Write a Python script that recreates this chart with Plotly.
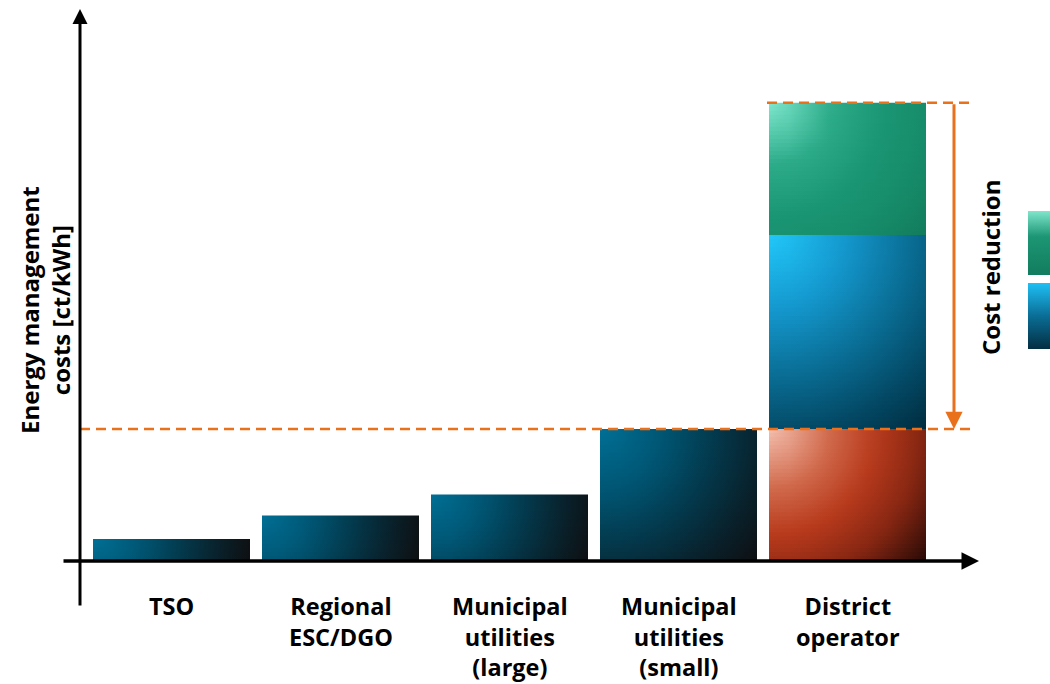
import math
import plotly.graph_objects as go

# ---------------- data ----------------
categories = ["TSO", "Regional<br>ESC/DGO", "Municipal<br>utilities<br>(large)",
              "Municipal<br>utilities<br>(small)", "District<br>operator"]
base_costs = [1.6, 3.4, 5.0, 10.0]            # single bars (relative ct/kWh)
district_segments = [10.0, 14.8, 10.1]        # stacked district bar: base, blue, green

# ---------------- style ----------------
W, H = 1050, 684
ORANGE = "#E9711C"
FONT = "Open Sans"
PXC, PXU = 169.0, 13.1      # px per category / px per value unit
BAR_PX = 157.0
HW = BAR_PX / PXC / 2

# gradient stops (t = 0 at top-left corner, 1 at bottom-right corner)
TEAL = [(0, (0, 112, 150)), (0.3, (0, 86, 116)), (0.55, (3, 58, 78)), (0.8, (9, 32, 42)), (1, (14, 16, 18))]
RED = [(0, (244, 192, 176)), (0.3, (208, 104, 74)), (0.52, (184, 58, 28)), (0.75, (134, 38, 18)), (1, (40, 10, 6))]
BLUE = [(0, (34, 200, 250)), (0.3, (20, 152, 206)), (0.55, (10, 112, 152)), (0.8, (3, 72, 100)), (1, (0, 44, 62))]
GREEN = [(0, (128, 232, 206)), (0.3, (45, 172, 138)), (0.55, (26, 150, 116)), (0.8, (22, 138, 104)), (1, (18, 124, 92))]


def interp(stops, t):
    t = min(max(t, 0.0), 1.0)
    for (t0, c0), (t1, c1) in zip(stops[:-1], stops[1:]):
        if t <= t1:
            f = 0 if t1 == t0 else (t - t0) / (t1 - t0)
            return "rgb(%d,%d,%d)" % tuple(round(a + (b - a) * f) for a, b in zip(c0, c1))
    return "rgb(%d,%d,%d)" % stops[-1][1]


fig = go.Figure()


def add_bar(xc, y0, y1, stops):
    """Bar from y0 to y1 at category xc, filled with a corner-radial gradient."""
    h_px = (y1 - y0) * PXU
    R = math.hypot(BAR_PX, h_px)
    n = max(3, int(round(h_px / 4)))
    xs = [xc - HW, xc + HW, xc + HW, xc - HW, xc - HW]
    for k in range(n):
        top = y1 - (y1 - y0) * k / n
        dy = (k + 0.5) / n * h_px
        us = [j / 8 for j in range(9)]
        scale = [[u, interp(stops, math.hypot(u * BAR_PX, dy) / R)] for u in us]
        fig.add_trace(go.Scatter(x=xs, y=[y0, y0, top, top, y0], mode="lines",
                                 line=dict(width=0), fill="toself",
                                 fillgradient=dict(type="horizontal", colorscale=scale),
                                 hoverinfo="skip", showlegend=False))


for i, v in enumerate(base_costs):
    add_bar(i, 0, v, TEAL)

d = len(base_costs)
bottoms = [0, district_segments[0], district_segments[0] + district_segments[1]]
tops = [bottoms[k] + district_segments[k] for k in range(3)]
for k, stops in enumerate([RED, BLUE, GREEN]):
    add_bar(d, bottoms[k], tops[k], stops)

total = tops[2]
ref = district_segments[0]

# legend keys (cut off at the page edge), on a pixel overlay axis
legend_keys = [
    ((1028, 1052), (H - 275, H - 211), [[0, "rgb(18,124,94)"], [0.6, "rgb(28,150,116)"], [1, "rgb(128,230,204)"]]),
    ((1028, 1052), (H - 349, H - 283), [[0, "rgb(3,46,66)"], [0.5, "rgb(10,110,150)"], [1, "rgb(30,192,244)"]]),
]
for (x0, x1), (y0, y1), sc in legend_keys:
    fig.add_trace(go.Scatter(x=[x0, x1, x1, x0, x0], y=[y0, y0, y1, y1, y0],
                             xaxis="x2", yaxis="y2", mode="lines", line=dict(width=0),
                             fill="toself", fillgradient=dict(type="vertical", colorscale=sc),
                             hoverinfo="skip", showlegend=False))

x0c = -171.5 / PXC
y_bottom = -(H - 560) / PXU
y_top = 560 / PXU

shapes = [
    dict(type="line", xref="paper", yref="y", x0=80 / W, x1=975 / W, y0=ref, y1=ref,
         line=dict(color=ORANGE, width=2.5, dash="10px,6px")),
    dict(type="line", xref="paper", yref="y", x0=767 / W, x1=975 / W, y0=total, y1=total,
         line=dict(color=ORANGE, width=2.5, dash="10px,6px")),
]

annotations = []
# axis arrows
annotations.append(dict(xref="paper", yref="paper", x=80 / W, y=1 - 9 / H, ax=0, ay=598,
                        showarrow=True, arrowhead=2, arrowsize=1.0, arrowwidth=3,
                        arrowcolor="black", text=""))
annotations.append(dict(xref="paper", yref="paper", x=979 / W, y=1 - 561 / H, ax=-917, ay=0,
                        showarrow=True, arrowhead=2, arrowsize=1.0, arrowwidth=3.5,
                        arrowcolor="black", text=""))
# cost reduction arrow
arrow_x = (954 - 171.5) / PXC
annotations.append(dict(xref="x", yref="y", axref="x", ayref="y", x=arrow_x, y=ref,
                        ax=arrow_x, ay=total, showarrow=True, arrowhead=2, arrowsize=1.15,
                        arrowwidth=3, arrowcolor=ORANGE, text=""))
annotations.append(dict(xref="paper", yref="paper", x=990 / W, y=1 - 267 / H,
                        xanchor="center", yanchor="middle",
                        text="<b>Cost reduction</b>", textangle=-90, showarrow=False,
                        font=dict(family=FONT, size=24, color="black")))
# y title
annotations.append(dict(xref="paper", yref="paper", x=45 / W, y=1 - 310 / H,
                        xanchor="center", yanchor="middle",
                        text="<b>Energy management<br>costs [ct/kWh]</b>", textangle=-90,
                        showarrow=False, font=dict(family=FONT, size=24, color="black")))
# category labels
for i, c in enumerate(categories):
    annotations.append(dict(xref="x", yref="paper", x=i, y=1 - 588 / H, yanchor="top",
                            text="<b>" + c + "</b>", showarrow=False,
                            font=dict(family=FONT, size=23.5, color="black")))

fig.update_layout(
    width=W, height=H, margin=dict(l=0, r=0, t=0, b=0),
    paper_bgcolor="white", plot_bgcolor="white",
    xaxis=dict(range=[x0c, x0c + W / PXC], visible=False, fixedrange=True),
    yaxis=dict(range=[y_bottom, y_top], visible=False, fixedrange=True),
    xaxis2=dict(range=[0, W], visible=False, overlaying="x", fixedrange=True),
    yaxis2=dict(range=[0, H], visible=False, overlaying="y", fixedrange=True),
    shapes=shapes, annotations=annotations, showlegend=False,
)

fig.write_html("out.html")
